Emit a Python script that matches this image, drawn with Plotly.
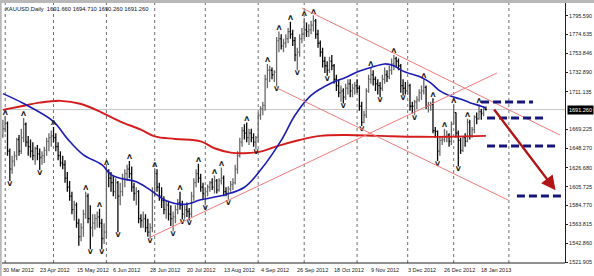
import plotly.graph_objects as go

# ---------------- data ----------------
opens = [1662,1670,1676,1645,1625,1634,1640,1658,1645,1660,
         1675,1655,1650,1645,1640,1648,1642,1638,1640,1646,
         1656,1660,1662,1660,1650,1640,1632,1630,1615,1605,
         1595,1580,1585,1565,1550,1560,1575,1595,1570,1560,
         1565,1570,1572,1565,1548,1555,1622,1615,1610,1600,
         1610,1595,1600,1615,1620,1625,1620,1605,1598,1600,
         1570,1568,1570,1560,1555,1560,1600,1620,1605,1595,
         1590,1580,1585,1575,1570,1572,1580,1588,1585,1575,
         1580,1578,1575,1595,1610,1620,1615,1605,1598,1600,
         1605,1610,1605,1612,1602,1612,1615,1600,1598,1603,
         1608,1610,1625,1640,1655,1668,1665,1660,1665,1660,
         1655,1660,1685,1692,1696,1725,1735,1735,1730,1733,
         1768,1770,1762,1765,1770,1778,1775,1768,1752,1755,
         1770,1775,1780,1778,1780,1785,1790,1775,1765,1755,
         1745,1740,1735,1745,1740,1725,1718,1710,1712,1705,
         1715,1720,1712,1715,1718,1715,1695,1677,1685,1712,
         1725,1730,1725,1720,1718,1715,1725,1730,1728,1735,
         1742,1748,1745,1740,1718,1715,1712,1718,1695,1695,
         1700,1702,1710,1712,1716,1695,1696,1697,1668,1667,
         1645,1657,1658,1661,1663,1656,1675,1688,1665,1657,
         1646,1660,1656,1677,1662,1669,1683,1681,1689,1687,
         1691.66]
highs = [1680,1684,1678,1648,1640,1645,1660,1663,1670,1682,
         1677,1662,1658,1655,1650,1652,1648,1645,1650,1660,
         1665,1668,1672,1665,1655,1645,1640,1635,1622,1612,
         1600,1590,1588,1570,1565,1580,1600,1598,1585,1575,
         1575,1578,1581,1570,1565,1628,1625,1622,1618,1615,
         1612,1610,1620,1625,1630,1634,1628,1610,1605,1602,
         1575,1578,1575,1570,1565,1605,1626,1625,1610,1605,
         1595,1590,1590,1585,1578,1585,1592,1600,1590,1585,
         1588,1582,1600,1615,1625,1631,1620,1610,1605,1608,
         1612,1615,1618,1614,1615,1627,1618,1605,1606,1612,
         1615,1630,1645,1660,1672,1675,1677,1670,1670,1665,
         1662,1688,1695,1700,1730,1742,1740,1738,1735,1772,
         1778,1775,1770,1775,1782,1789,1780,1772,1760,1775,
         1782,1793,1788,1786,1790,1796,1792,1780,1768,1760,
         1750,1745,1750,1752,1742,1730,1725,1718,1715,1720,
         1725,1725,1720,1722,1725,1718,1700,1690,1715,1730,
         1738,1735,1728,1725,1722,1730,1738,1735,1740,1748,
         1752,1750,1748,1742,1725,1722,1722,1720,1700,1702,
         1706,1714,1718,1725,1718,1700,1700,1704,1672,1668,
         1662,1662,1670,1668,1665,1678,1697,1688,1668,1660,
         1662,1665,1681,1680,1672,1685,1688,1697,1692,1695,
         1694.71]
lows = [1660,1666,1640,1612,1620,1628,1635,1640,1642,1655,
        1650,1640,1638,1635,1630,1635,1624,1630,1632,1640,
        1645,1650,1655,1645,1635,1628,1625,1610,1600,1590,
        1575,1568,1560,1540,1545,1550,1570,1565,1536,1550,
        1558,1560,1560,1536,1542,1548,1605,1600,1595,1592,
        1555,1585,1595,1605,1612,1615,1600,1590,1585,1565,
        1560,1560,1555,1550,1548,1555,1595,1600,1590,1582,
        1575,1570,1568,1562,1556,1565,1575,1580,1569,1570,
        1572,1568,1572,1590,1605,1610,1600,1592,1585,1595,
        1600,1602,1598,1598,1600,1608,1595,1595,1591,1600,
        1602,1608,1620,1638,1650,1658,1655,1652,1655,1650,
        1647,1655,1680,1685,1690,1715,1722,1725,1722,1717,
        1755,1758,1755,1760,1765,1770,1762,1745,1735,1750,
        1765,1770,1772,1772,1775,1778,1770,1760,1750,1738,
        1732,1729,1732,1735,1720,1712,1705,1700,1698,1702,
        1708,1705,1705,1708,1710,1690,1673,1676,1682,1710,
        1720,1718,1712,1708,1705,1712,1720,1722,1725,1730,
        1735,1738,1735,1710,1707,1708,1708,1690,1687,1685,
        1692,1700,1702,1708,1692,1688,1690,1665,1660,1634,
        1640,1652,1655,1655,1650,1652,1675,1660,1628,1642,
        1644,1650,1655,1658,1660,1665,1675,1680,1680,1684,
        1690.26]
closes = [1670,1676,1645,1625,1634,1640,1658,1645,1660,1675,
          1655,1650,1645,1640,1648,1642,1638,1640,1646,1656,
          1660,1662,1660,1650,1640,1632,1630,1615,1605,1595,
          1580,1585,1565,1550,1560,1575,1595,1570,1560,1565,
          1570,1572,1565,1548,1555,1622,1615,1610,1600,1610,
          1595,1600,1615,1620,1625,1620,1605,1598,1600,1570,
          1568,1570,1560,1555,1560,1600,1620,1605,1595,1590,
          1580,1585,1575,1570,1572,1580,1588,1585,1575,1580,
          1578,1575,1595,1610,1620,1615,1605,1598,1600,1605,
          1610,1605,1612,1602,1612,1615,1600,1598,1603,1608,
          1610,1625,1640,1655,1668,1665,1660,1665,1660,1655,
          1660,1685,1692,1696,1725,1735,1735,1730,1733,1768,
          1770,1762,1765,1770,1778,1775,1768,1752,1755,1770,
          1775,1780,1778,1780,1785,1790,1775,1765,1755,1745,
          1740,1735,1745,1740,1725,1718,1710,1712,1705,1715,
          1720,1712,1715,1718,1715,1695,1677,1685,1712,1725,
          1730,1725,1720,1718,1715,1725,1730,1728,1735,1742,
          1748,1745,1740,1718,1715,1712,1718,1695,1695,1700,
          1702,1710,1712,1716,1695,1696,1697,1668,1667,1645,
          1657,1658,1661,1663,1656,1675,1688,1665,1657,1646,
          1660,1656,1677,1662,1669,1683,1681,1689,1687,1692,
          1691.26]
bars = list(range(len(closes)))

# fractal marks (bar indices)
up_fractals = [1, 9, 22, 36, 42, 45, 55, 66, 77, 85, 92, 95, 106, 115, 120, 125,
               131, 135, 160, 170, 183, 187, 192, 196, 202, 207]
down_fractals = [3, 16, 38, 43, 50, 64, 74, 78, 81, 88, 98, 110, 119, 128, 141,
                 148, 156, 164, 174, 179, 189, 198]

# moving averages (read points)
blue_ma_bars = [0, 9, 22, 28, 35, 43, 47, 51, 58, 64, 71, 79, 86, 97, 105, 112, 121,
                127, 134, 143, 149, 154, 160, 166, 170, 174, 182, 186, 190, 195,
                199, 203, 208, 210]
blue_ma_vals = [1709, 1698, 1678, 1659, 1641, 1630, 1619, 1615, 1611, 1602, 1590,
                1586, 1591, 1597, 1605, 1624, 1657, 1685, 1707, 1721, 1727, 1733,
                1738, 1742, 1740, 1734, 1727, 1721, 1712, 1706, 1703, 1699, 1695, 1693]
red_ma_bars = [0, 8, 16, 25, 34, 43, 51, 60, 66, 75, 86, 92, 99, 105, 112, 120,
               129, 138, 149, 164, 181, 194, 210]
red_ma_vals = [1691, 1695, 1699, 1701, 1697.5, 1688, 1678, 1669, 1661.5, 1658.6,
               1656, 1648.3, 1643.5, 1642.8, 1644.6, 1651.3, 1657.5, 1662, 1663,
               1662, 1661, 1661, 1662]

# trend lines: (bar0, price0, bar1, price1)
channel_lines = [(64.0, 1549.4, 214.8, 1731.9),
                 (130.0, 1804.2, 242.2, 1663.0),
                 (119.2, 1715.2, 219.6, 1590.8)]
# dashed target levels: (bar0, bar1, price)
target_levels = [(207.9, 230.5, 1699.7), (210.5, 235.7, 1682.0),
                 (210.5, 241.3, 1650.9), (223.5, 243.5, 1595.3)]
arrow_from = (213.1, 1693.0)
arrow_to = (240.3, 1601.5)

month_separators = [1, 22, 45, 66, 88, 111, 131, 154, 176, 196, 220]
x_tick_bars = [0, 16, 32, 48, 64, 80, 96, 112, 128, 144, 160, 176, 192, 208]
x_tick_labels = ["30 Mar 2012", "23 Apr 2012", "15 May 2012", "6 Jun 2012",
                 "28 Jun 2012", "20 Jul 2012", "13 Aug 2012", "4 Sep 2012",
                 "26 Sep 2012", "18 Oct 2012", "9 Nov 2012", "3 Dec 2012",
                 "26 Dec 2012", "18 Jan 2013"]
y_tick_vals = [1795.590, 1774.635, 1753.846, 1732.890, 1711.135, 1669.225,
               1648.270, 1626.680, 1605.725, 1584.770, 1563.815, 1542.860, 1521.905]
last_price = 1691.260
title_text = "XAUUSD,Daily  1691.660 1694.710 1690.260 1691.260"

# ---------------- figure ----------------
FONT = "Liberation Sans"
fig = go.Figure()

fig.add_trace(go.Ohlc(
    x=bars, open=opens, high=highs, low=lows, close=closes,
    increasing=dict(line=dict(color="#6a6a6a", width=1.3)),
    decreasing=dict(line=dict(color="#0a0a0a", width=1.3)),
    tickwidth=0.45, showlegend=False, hoverinfo="skip"))

fig.add_trace(go.Scatter(
    x=red_ma_bars, y=red_ma_vals, mode="lines",
    line=dict(color="#d41c1c", width=1.9, shape="spline", smoothing=1.0),
    showlegend=False, hoverinfo="skip"))
fig.add_trace(go.Scatter(
    x=blue_ma_bars, y=blue_ma_vals, mode="lines",
    line=dict(color="#1c1cb4", width=1.6, shape="spline", smoothing=1.0),
    showlegend=False, hoverinfo="skip"))

fig.add_trace(go.Scatter(
    x=up_fractals, y=[highs[i] for i in up_fractals], mode="text",
    text=["Λ"] * len(up_fractals), textposition="top center",
    textfont=dict(family="DejaVu Sans", size=6.5, color="#202020", weight="bold"),
    showlegend=False, hoverinfo="skip"))
fig.add_trace(go.Scatter(
    x=down_fractals, y=[lows[i] for i in down_fractals], mode="text",
    text=["V"] * len(down_fractals), textposition="bottom center",
    textfont=dict(family="DejaVu Sans", size=6.5, color="#202020", weight="bold"),
    showlegend=False, hoverinfo="skip"))

shapes = []
for b in month_separators:
    shapes.append(dict(type="line", xref="x", yref="paper", x0=b, x1=b, y0=0, y1=1,
                       line=dict(color="#6e6e6e", width=1, dash="dot"), layer="below"))
shapes.append(dict(type="line", xref="paper", yref="y", x0=0, x1=1,
                   y0=last_price, y1=last_price,
                   line=dict(color="#c4c4c4", width=1), layer="below"))
for (b0, p0, b1, p1) in channel_lines:
    shapes.append(dict(type="line", xref="x", yref="y", x0=b0, y0=p0, x1=b1, y1=p1,
                       line=dict(color="#f07a7a", width=1)))
for (b0, b1, p) in target_levels:
    shapes.append(dict(type="line", xref="x", yref="y", x0=b0, x1=b1, y0=p, y1=p,
                       line=dict(color="#16167a", width=3, dash="8px,4px")))
# window frame bands
shapes.append(dict(type="rect", xref="paper", yref="paper", x0=-0.01, x1=1.06,
                   y0=1.0, y1=1.012, fillcolor="#b8b8b8", line=dict(width=0), layer="above"))
shapes.append(dict(type="rect", xref="paper", yref="paper", x0=-0.004, x1=-0.0005,
                   y0=-0.06, y1=1.012, fillcolor="#b8b8b8", line=dict(width=0), layer="above"))
shapes.append(dict(type="line", xref="paper", yref="paper", x0=0, x1=1, y0=0, y1=0,
                   line=dict(color="#202020", width=1)))

annotations = []
annotations.append(dict(x=arrow_to[0], y=arrow_to[1], ax=arrow_from[0], ay=arrow_from[1],
                        xref="x", yref="y", axref="x", ayref="y", text="",
                        showarrow=True, arrowhead=2, arrowsize=1.2, arrowwidth=2.4,
                        arrowcolor="#b01414"))
for b, lab in zip(x_tick_bars, x_tick_labels):
    annotations.append(dict(x=b, y=0, xref="x", yref="paper", text=lab, showarrow=False,
                            xanchor="left", yanchor="top", xshift=-2, yshift=-2,
                            font=dict(family=FONT, size=5.5, color="#202020")))
annotations.append(dict(x=0, y=1, xref="paper", yref="paper", text=title_text,
                        showarrow=False, xanchor="left", yanchor="top", xshift=1, yshift=-1,
                        font=dict(family=FONT, size=5.8, color="#101010")))
annotations.append(dict(x=1, y=last_price, xref="paper", yref="y",
                        text=f"{last_price:.3f}", showarrow=False, xanchor="left",
                        xshift=2, bgcolor="#000000", borderpad=1,
                        font=dict(family=FONT, size=5.5, color="#ffffff")))

fig.update_layout(
    width=594, height=276,
    margin=dict(l=2, r=29, t=3, b=13),
    paper_bgcolor="#ffffff", plot_bgcolor="#ffffff",
    shapes=shapes, annotations=annotations, showlegend=False,
    xaxis=dict(range=[-0.4, 244.4], showgrid=False, zeroline=False,
               showticklabels=False, rangeslider=dict(visible=False),
               showline=False, fixedrange=True),
    yaxis=dict(range=[1520.8, 1809.7], side="right", showgrid=False, zeroline=False,
               tickvals=y_tick_vals, ticktext=[f"{v:.3f}" for v in y_tick_vals],
               ticks="outside", ticklen=2, tickcolor="#202020",
               showline=True, linecolor="#202020", linewidth=1,
               tickfont=dict(family=FONT, size=5.5, color="#202020")),
)

fig.write_html("out.html")
